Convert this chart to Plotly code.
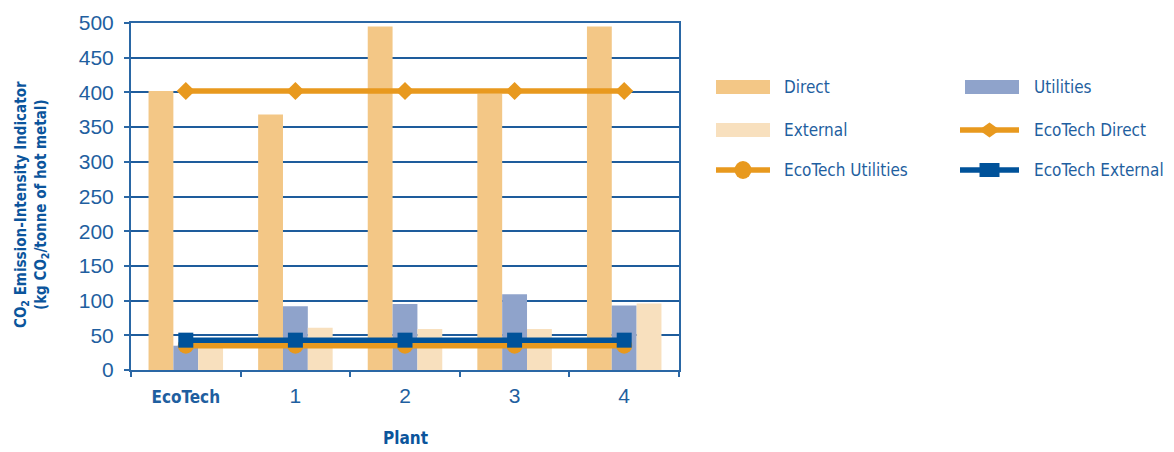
import plotly.graph_objects as go

# ---- data -------------------------------------------------------------
plants = ["EcoTech", "1", "2", "3", "4"]
tick_text = [
    '<span style="font-family:DejaVu Sans Condensed;font-size:17px"><b>EcoTech</b></span>',
    "1", "2", "3", "4",
]

direct = [402, 368, 495, 398, 495]
utilities = [35, 92, 95, 109, 93]
external = [43, 61, 59, 59, 96]

# EcoTech benchmark levels carried across every plant
ecotech_direct = [402, 402, 402, 402, 402]
ecotech_utilities = [35, 35, 35, 35, 35]
ecotech_external = [43, 43, 43, 43, 43]

bar_names = ["Direct", "Utilities", "External"]
line_names = ["EcoTech Direct", "EcoTech Utilities", "EcoTech External"]

y_ticks = [0, 50, 100, 150, 200, 250, 300, 350, 400, 450, 500]

# ---- styling ----------------------------------------------------------
C_DIRECT = "#F3C786"
C_UTIL = "#8FA3CB"
C_EXT = "#F8E0BE"
C_ORANGE = "#E8991E"
C_BLUE = "#00529A"
C_TEXT = "#1F5FA0"
C_TITLE = "#0B559C"
AXIS_BLUE = "#2A67A5"

NARROW = "DejaVu Sans Condensed"
SANS = "Liberation Sans"

W, H = 1174, 452
L, R, T, B = 131, 495, 23, 82
PW, PH = W - L - R, H - T - B


def px_x(px):
    return (px - L) / PW


def px_y(py):
    return (H - B - py) / PH


fig = go.Figure()

for name, vals, col in zip(bar_names, [direct, utilities, external], [C_DIRECT, C_UTIL, C_EXT]):
    fig.add_trace(go.Bar(x=plants, y=vals, name=name, marker=dict(color=col, line=dict(width=0)),
                         showlegend=False))

line_specs = [
    (ecotech_direct, C_ORANGE, "diamond", 14),
    (ecotech_utilities, C_ORANGE, "circle", 16),
    (ecotech_external, C_BLUE, "square", 15),
]
for name, (vals, col, sym, sz) in zip(line_names, line_specs):
    fig.add_trace(go.Scatter(x=plants, y=vals, name=name, mode="lines+markers",
                             line=dict(color=col, width=5.5),
                             marker=dict(symbol=sym, size=sz, color=col, line=dict(width=0)),
                             showlegend=False))

# ---- custom legend (wide swatches, two columns) -----------------------
shapes = []
annotations = []
col_x = [716, 965]
text_x = [782, 1032]
row_y = [87, 130, 170]
legend_items = [
    ("Direct", "bar", C_DIRECT, None),
    ("Utilities", "bar", C_UTIL, None),
    ("External", "bar", C_EXT, None),
    ("EcoTech Direct", "line", C_ORANGE, "diamond"),
    ("EcoTech Utilities", "line", C_ORANGE, "circle"),
    ("EcoTech External", "line", C_BLUE, "square"),
]
for i, (name, kind, col, sym) in enumerate(legend_items):
    c, r = i % 2, i // 2
    x0 = col_x[c] - (5 if (kind == "line" and c == 1) else 0)
    x1 = col_x[c] + 54
    cy = row_y[r]
    if kind == "bar":
        shapes.append(dict(type="rect", xref="paper", yref="paper",
                           x0=px_x(x0), x1=px_x(x1), y0=px_y(cy + 7), y1=px_y(cy - 7),
                           fillcolor=col, line=dict(width=0)))
    else:
        shapes.append(dict(type="line", xref="paper", yref="paper",
                           x0=px_x(x0), x1=px_x(x1), y0=px_y(cy), y1=px_y(cy),
                           line=dict(color=col, width=5.5)))
        cx = (x0 + x1) / 2
        if sym == "diamond":
            path = "M {:.5f},{:.5f} L {:.5f},{:.5f} L {:.5f},{:.5f} L {:.5f},{:.5f} Z".format(
                px_x(cx - 10.5), px_y(cy), px_x(cx), px_y(cy - 7.5),
                px_x(cx + 10.5), px_y(cy), px_x(cx), px_y(cy + 7.5))
            shapes.append(dict(type="path", xref="paper", yref="paper", path=path,
                               fillcolor=col, line=dict(width=0)))
        elif sym == "circle":
            shapes.append(dict(type="circle", xref="paper", yref="paper",
                               x0=px_x(cx - 8.5), x1=px_x(cx + 8.5),
                               y0=px_y(cy + 9), y1=px_y(cy - 9),
                               fillcolor=col, line=dict(width=0)))
        else:
            shapes.append(dict(type="rect", xref="paper", yref="paper",
                               x0=px_x(cx - 10), x1=px_x(cx + 10),
                               y0=px_y(cy + 7), y1=px_y(cy - 7),
                               fillcolor=col, line=dict(width=0)))
    annotations.append(dict(text=name, xref="paper", yref="paper", x=px_x(text_x[c]), y=px_y(cy),
                            xanchor="left", yanchor="middle", showarrow=False,
                            font=dict(family=NARROW, size=17, color=C_TEXT)))

# axis titles
annotations.append(dict(
    text="CO<sub>2</sub> Emission-Intensity Indicator<br>(kg CO<sub>2</sub>/tonne of hot metal)",
    xref="paper", yref="paper", x=px_x(31), y=px_y(205), textangle=-90,
    xanchor="center", yanchor="middle", showarrow=False,
    font=dict(family=NARROW, size=15, color=C_TITLE, weight="bold")))
annotations.append(dict(
    text="Plant", xref="paper", yref="paper", x=px_x(405), y=px_y(438),
    xanchor="center", yanchor="middle", showarrow=False,
    font=dict(family=NARROW, size=17, color=C_TITLE, weight="bold")))

fig.update_layout(
    width=W, height=H,
    margin=dict(l=L, r=R, t=T, b=B, pad=0),
    paper_bgcolor="white", plot_bgcolor="white",
    barmode="group", bargap=0.32, bargroupgap=0,
    showlegend=False,
    shapes=shapes, annotations=annotations,
    font=dict(family=SANS, color=C_TEXT),
)

fig.update_xaxes(
    type="category", categoryorder="array", categoryarray=plants,
    tickmode="array", tickvals=plants, ticktext=tick_text,
    tickson="boundaries", ticks="outside", ticklen=5, tickwidth=1.5, tickcolor=AXIS_BLUE,
    showline=True, linecolor=AXIS_BLUE, linewidth=2, mirror=True,
    showgrid=False, zeroline=False,
    tickfont=dict(family=SANS, size=21, color=C_TEXT),
    ticklabelstandoff=6,
)
fig.update_yaxes(
    range=[0, 500], tickmode="array", tickvals=y_ticks,
    ticks="outside", ticklen=5, tickwidth=1.5, tickcolor=AXIS_BLUE,
    showline=True, linecolor=AXIS_BLUE, linewidth=2, mirror=True,
    showgrid=True, gridcolor="#1E5C9C", gridwidth=1.5, zeroline=False,
    tickfont=dict(family=SANS, size=21, color=C_TEXT),
    ticklabelstandoff=6,
)

fig.write_html("out.html")
